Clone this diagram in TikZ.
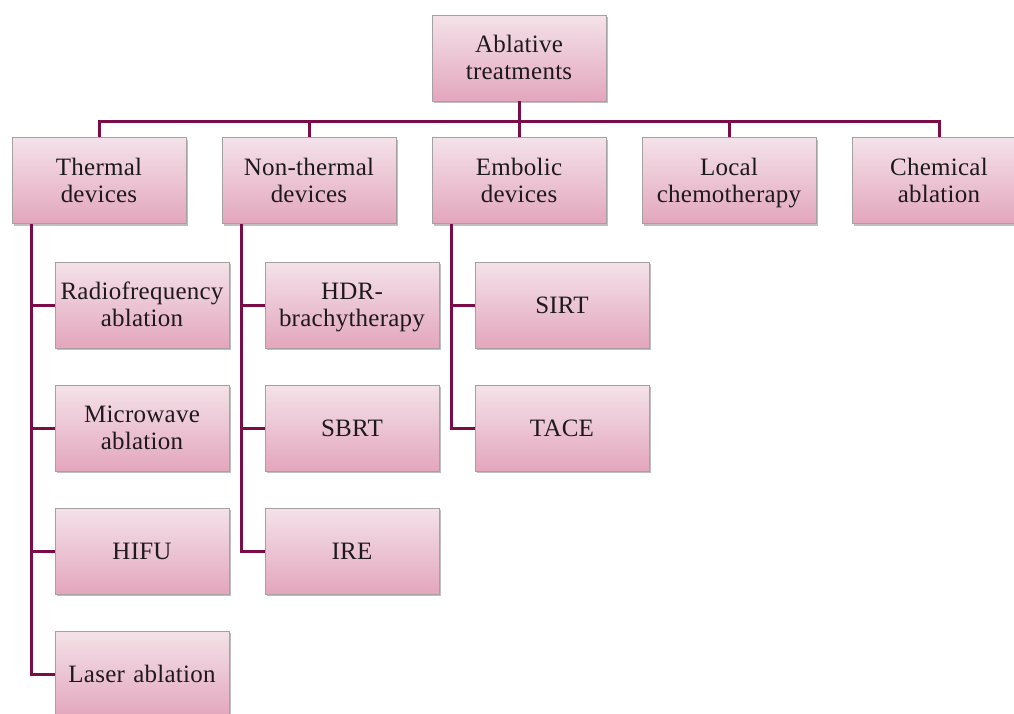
\documentclass[tikz,border=0pt]{standalone}
\usepackage{fontspec}
\setmainfont{Liberation Serif}
\usetikzlibrary{shadows}
\definecolor{pinktop}{RGB}{244,226,233}
\definecolor{pinkbot}{RGB}{227,166,189}
\definecolor{boxline}{RGB}{165,160,162}
\definecolor{conncol}{RGB}{122,12,72}
\definecolor{txtcol}{RGB}{30,25,28}
\tikzset{
  treebox/.style={draw=boxline, line width=0.8pt, top color=pinktop, bottom color=pinkbot,
    minimum width=174pt, minimum height=86pt, inner sep=0pt, align=center,
    text width=172pt, text=txtcol,
    font=\fontsize{25}{27}\selectfont\addfontfeature{LetterSpace=1},
    execute at begin node={\rule{0pt}{25pt}}, execute at end node={\strut},
    drop shadow={shadow xshift=1.5pt, shadow yshift=-2pt, fill=black, opacity=0.25}},
  conn/.style={draw=conncol, line width=3pt}
}
\begin{document}
\begin{tikzpicture}[x=1pt,y=-1pt]
\useasboundingbox (0,0) rectangle (1014,713);
\coordinate (bus) at (519,121);
\coordinate (thtrunk) at (31,224);
\coordinate (nttrunk) at (241,224);
\coordinate (emtrunk) at (451,224);
% nodes
\node[treebox] (root) at (519,58) {Ablative\\treatments};
\node[treebox] (th) at (99,180.5) {Thermal\\devices};
\node[treebox] (nt) at (309,180.5) {Non-thermal\\devices};
\node[treebox] (em) at (519,180.5) {Embolic\\devices};
\node[treebox] (lc) at (729,180.5) {Local\\chemotherapy};
\node[treebox] (ca) at (939,180.5) {Chemical\\ablation};
\node[treebox] (rf) at (142,305) {Radiofrequency\\ablation};
\node[treebox] (mw) at (142,428) {Microwave\\ablation};
\node[treebox] (hifu) at (142,551) {HIFU};
\node[treebox] (la) at (142,674) {Laser ablation};
\node[treebox] (hdr) at (352,305) {HDR-\\brachytherapy};
\node[treebox] (sbrt) at (352,428) {SBRT};
\node[treebox] (ire) at (352,551) {IRE};
\node[treebox] (sirt) at (562,305) {SIRT};
\node[treebox] (tace) at (562,428) {TACE};
% connectors
\draw[conn] (root.south) -- (bus);
\draw[conn] (bus) -| (th.north);
\draw[conn] (bus) -| (nt.north);
\draw[conn] (bus) -- (em.north);
\draw[conn] (bus) -| (lc.north);
\draw[conn] (bus) -| (ca.north);
\draw[conn] (thtrunk) |- (rf.west);
\draw[conn] (thtrunk) |- (mw.west);
\draw[conn] (thtrunk) |- (hifu.west);
\draw[conn, line join=miter] (thtrunk) |- (la.west);
\draw[conn] (nttrunk) |- (hdr.west);
\draw[conn] (nttrunk) |- (sbrt.west);
\draw[conn, line join=miter] (nttrunk) |- (ire.west);
\draw[conn] (emtrunk) |- (sirt.west);
\draw[conn, line join=miter] (emtrunk) |- (tace.west);
\end{tikzpicture}
\end{document}
